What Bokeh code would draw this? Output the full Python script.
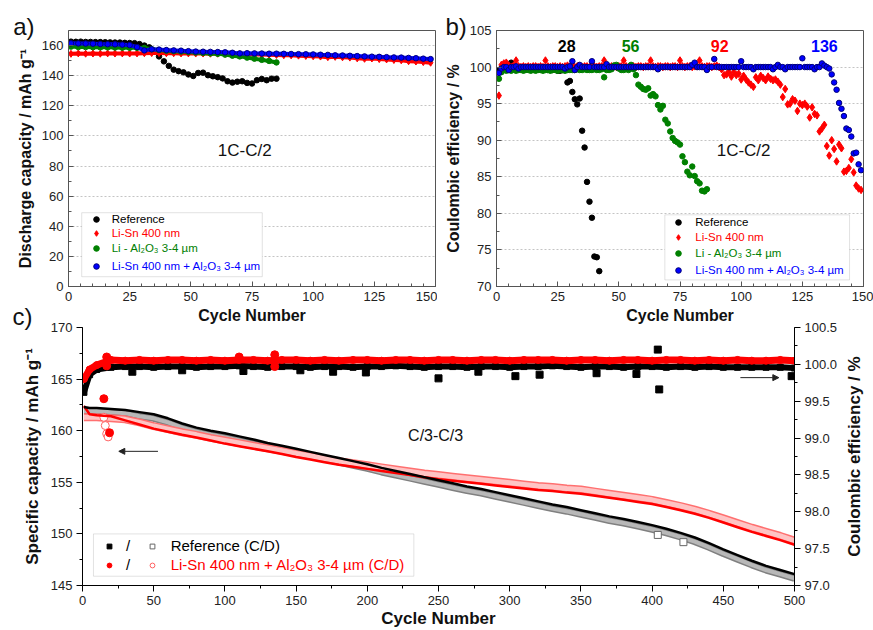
import math
from bokeh.plotting import figure
from bokeh.models import (Range1d, LinearAxis, Label, Legend, LegendItem, BoxAnnotation,
                          Arrow, NormalHead, FixedTicker, PrintfTickFormatter)
from bokeh.layouts import column, row
from bokeh.embed import file_html
from bokeh.resources import INLINE

FONT = "Liberation Sans"

# ---------------- data: panel a (discharge capacity, 1C-C/2) ----------------
a_ref_cyc = list(range(1, 86, 2))
a_ref_cap = [162.6, 162.5, 162.6, 162.4, 162.4, 162.3, 162.3, 162.2, 162.1, 162.0,
             162.0, 161.8, 161.7, 161.6, 161.0, 160.0, 158.8, 156.5, 152.8, 149.5,
             146.5, 144.0, 143.0, 142.2, 140.8, 139.8, 141.8, 142.0, 140.3, 139.6,
             139.0, 138.2, 136.3, 135.4, 136.0, 136.3, 135.2, 134.8, 137.0, 137.8,
             137.0, 138.0, 138.0]
a_cyc = list(range(1, 149, 3))
a_lisn_cap = [154.5, 154.8, 154.6, 154.7, 154.6, 154.8, 154.7, 154.8, 154.7, 154.8,
              154.9, 155.0, 155.0, 154.9, 154.9, 154.8, 154.8, 154.7, 154.7, 154.6,
              154.6, 154.5, 154.4, 154.3, 154.2, 154.1, 154.0, 153.9, 153.8, 153.6,
              153.5, 153.3, 153.1, 152.9, 152.7, 152.3, 152.5, 152.2, 152.0, 151.5,
              151.2, 151.4, 151.0, 150.8, 150.4, 150.2, 149.6, 149.4, 149.0, 148.6]
a_both_cap = [161.5, 161.4, 161.3, 161.2, 161.0, 160.9, 160.8, 160.6, 160.3, 159.0,
              156.8, 157.5, 157.3, 157.0, 156.8, 156.6, 156.3, 156.0, 155.9, 155.8,
              155.7, 155.5, 155.2, 154.8, 154.9, 154.8, 154.7, 154.6, 154.6, 154.5,
              154.4, 154.3, 154.2, 154.1, 153.9, 153.8, 153.5, 153.4, 153.2, 153.0,
              152.8, 152.6, 152.5, 152.3, 152.1, 152.0, 151.8, 151.6, 151.3, 151.0]
a_al_cyc = list(range(1, 86, 3))
a_al_cap = [159.3, 159.0, 159.0, 158.9, 158.8, 158.8, 158.7, 158.6, 158.5, 158.5,
            158.4, 157.6, 157.0, 156.6, 156.3, 156.0, 155.7, 155.4, 155.1, 154.8,
            154.5, 154.0, 153.3, 152.8, 152.0, 151.3, 150.5, 149.8, 148.8]

# ---------------- data: panel b (coulombic efficiency, 1C-C/2) ----------------
b_ref_cyc = list(range(1, 43))
b_ref_ce = [99.5, 99.8, 99.9, 100.0, 100.2, 100.6, 100.0, 99.9, 99.8, 99.8,
            99.7, 99.8, 99.8, 99.7, 99.7, 99.8, 99.7, 99.7, 99.6, 99.7,
            99.6, 99.6, 99.6, 99.7, 99.5, 99.5, 99.6, 99.8,
            97.9, 98.1, 96.6, 95.6, 94.9, 95.7, 91.3, 89.0, 84.3, 81.6, 79.4, 74.1, 74.0, 72.1]
b_al_cyc = list(range(1, 87))
b_al_ce = [98.4, 99.3, 99.6, 99.5, 99.6, 99.5, 99.7, 99.5, 99.6, 99.6,
           99.5, 99.6, 99.6, 99.5, 99.6, 99.5, 99.6, 99.6, 99.5, 99.6,
           99.6, 99.5, 99.6, 99.6, 99.5, 99.6, 99.6, 99.5, 99.6, 99.6,
           99.6, 99.6, 99.7, 99.6, 99.6, 99.7, 99.6, 99.6, 99.6, 99.7,
           99.6, 99.6, 99.7, 98.6, 99.6, 99.6, 99.7, 100.2, 100.3, 99.8,
           99.6, 99.6, 99.7, 99.6, 100.3, 99.7,
           98.9, 97.6, 97.3, 97.0, 96.9, 97.1, 96.1, 96.3, 96.0, 94.8,
           94.2, 94.7, 92.8, 92.3, 91.2, 90.3, 89.9, 89.7, 89.4, 87.8,
           87.0, 85.7, 85.2, 86.4, 85.1, 84.4, 84.1, 83.1, 83.0, 83.3]
b_cyc = list(range(1, 150))
b_lisn_ce = [96.1, 100.3, 100.5, 100.6, 100.2, 100.0, 100.2, 100.9, 100.1, 100.0,
             100.1, 100.0, 100.1, 100.0, 100.1, 100.1, 100.0, 100.1, 100.0, 100.9,
             100.1, 100.0, 100.1, 100.1, 100.0, 100.1, 100.0, 100.1, 100.2, 100.0,
             100.1, 100.0, 100.1, 100.1, 100.0, 100.1, 100.1, 100.0, 100.1, 100.1,
             100.0, 100.1, 100.1, 100.9, 100.1, 100.0, 100.1, 100.1, 100.0, 100.1,
             100.1, 100.9, 100.1, 100.0, 100.1, 100.1, 100.0, 100.1, 100.1, 100.0,
             100.1, 100.1, 100.9, 100.1, 100.0, 100.1, 100.1, 100.0, 100.1, 100.1,
             100.0, 100.1, 100.1, 100.0, 100.9, 100.1, 100.0, 100.1, 100.1, 100.0,
             100.1, 100.1, 100.9, 100.1, 100.0, 100.1, 100.1, 100.0, 100.1, 100.2,
             100.0, 99.7,
             98.9, 99.0, 99.3, 98.7, 99.3, 98.9, 99.1, 98.3, 98.8, 98.3,
             97.9, 97.6, 97.3, 98.6, 98.2, 98.8, 98.5, 98.2, 98.7, 98.4,
             98.2, 98.3, 98.0, 97.6, 95.9, 97.0, 94.9, 95.0, 95.6, 95.4,
             94.0, 95.0, 94.8, 95.0, 94.6, 93.1, 94.5, 93.6, 93.4, 91.2,
             91.6, 92.1, 89.2, 87.9, 90.0, 88.8, 87.1, 89.4, 88.9, 85.7,
             85.8, 86.2, 87.4, 85.6, 83.8, 83.4, 83.2]
b_both_ce = [99.2, 99.8, 100.0, 100.0, 99.6, 100.0, 100.0, 100.1, 99.8, 100.0,
             100.0, 100.0, 100.0, 100.0, 100.0, 100.0, 100.0, 100.0, 100.0, 100.0,
             100.0, 100.0, 100.0, 100.0, 100.0, 100.0, 100.0, 99.8, 100.0, 100.1,
             100.8, 99.6, 100.0, 100.3, 100.0, 100.0, 100.0, 100.0, 100.8, 100.0,
             100.0, 100.0, 100.0, 100.0, 100.4, 100.0, 100.0, 100.0, 100.0, 100.0,
             100.0, 100.0, 100.0, 100.0, 100.0, 100.0, 100.0, 100.0, 100.0, 100.0,
             100.0, 100.0, 100.0, 100.0, 100.0, 99.7, 100.0, 100.0, 100.0, 100.0,
             100.0, 100.0, 100.0, 100.0, 100.0, 100.0, 100.0, 100.0, 100.0, 100.3,
             100.6, 100.0, 100.0, 100.0, 100.0, 99.6, 100.0, 100.0, 101.1, 100.0,
             100.0, 100.0, 100.0, 100.0, 100.0, 100.0, 100.0, 100.0, 100.0, 100.8,
             100.0, 100.0, 100.0, 100.0, 99.7, 100.0, 100.0, 100.0, 100.0, 100.0,
             100.0, 100.0, 99.7, 100.0, 100.3, 100.0, 100.0, 99.7, 100.0, 100.0,
             100.0, 100.0, 100.0, 100.0, 101.2, 100.0, 100.0, 100.0, 100.0, 99.7,
             100.0, 100.0, 100.5, 100.2, 100.0, 99.8, 99.0, 97.9, 96.9, 95.1,
             94.3, 93.3, 91.6, 91.4, 90.5, 88.2, 88.3, 86.7, 85.9]
b_onset_cyc = [28.7, 54.8, 91.2, 134.0]
b_onset_txt = ["28", "56", "92", "136"]

# ---------------- data: panel c (C/3-C/3, 500 cycles) ----------------
c_cyc = [1, 5, 10] + list(range(20, 501, 10))
c_ref_chg = [162.3, 162.2, 162.2, 162.1, 162.0, 161.8, 161.6, 161.2, 160.7, 160.3,
             160.0, 159.75, 159.45, 159.15, 158.8, 158.55, 158.25, 157.95, 157.65, 157.35,
             157.05, 156.75, 156.4, 156.1, 155.8, 155.5, 155.2, 154.9, 154.6, 154.35,
             154.05, 153.75, 153.45, 153.15, 152.85, 152.6, 152.3, 152.0, 151.7, 151.45,
             151.15, 150.85, 150.5, 150.1, 149.65, 149.1, 148.5, 147.95, 147.4, 146.9,
             146.5, 146.1]
c_ref_dis = [161.9, 161.9, 161.9, 161.8, 161.7, 161.4, 161.2, 160.8, 160.3, 159.9,
             159.6, 159.35, 159.05, 158.75, 158.4, 158.15, 157.85, 157.55, 157.25, 156.95,
             156.65, 156.35, 156.0, 155.7, 155.4, 155.1, 154.8, 154.5, 154.2, 153.95,
             153.65, 153.35, 153.05, 152.75, 152.45, 152.2, 151.9, 151.6, 151.3, 151.05,
             150.75, 150.45, 150.1, 149.7, 149.25, 148.7, 148.1, 147.55, 147.0, 146.5,
             146.1, 145.7]
c_lisn_chg = [162.4, 161.6, 161.5, 161.4, 161.0, 160.6, 160.2, 159.9, 159.6, 159.35,
              159.05, 158.75, 158.5, 158.25, 158.0, 157.75, 157.45, 157.2, 156.95, 156.7,
              156.5, 156.3, 156.1, 155.9, 155.7, 155.5, 155.3, 155.15, 155.0, 154.85,
              154.7, 154.55, 154.4, 154.25, 154.15, 154.0, 153.9, 153.7, 153.5, 153.3,
              153.1, 152.9, 152.6, 152.3, 151.95, 151.55, 151.1, 150.65, 150.2, 149.8,
              149.4, 148.95]
c_lisn_dis = [161.3, 161.3, 161.3, 161.2, 161.1, 160.8, 160.45, 160.15, 159.85, 159.6,
              159.3, 159.05, 158.8, 158.55, 158.3, 158.05, 157.8, 157.55, 157.3, 157.05,
              156.85, 156.65, 156.45, 156.25, 156.05, 155.85, 155.7, 155.55, 155.4, 155.25,
              155.1, 154.95, 154.8, 154.65, 154.55, 154.4, 154.3, 154.1, 153.9, 153.7,
              153.5, 153.3, 153.0, 152.7, 152.35, 151.95, 151.5, 151.05, 150.6, 150.2,
              149.8, 149.35]
c_ref_ce = [99.62, 99.86, 99.93, 99.96, 99.97, 99.97, 99.96, 99.97, 99.97, 99.96,
            99.97, 99.97, 99.98, 99.97, 99.96, 99.97, 99.97, 99.96, 99.97, 99.97,
            99.96, 99.97, 99.97, 99.98, 99.97, 99.96, 99.97, 99.97, 99.96, 99.97,
            99.97, 99.96, 99.97, 99.97, 99.98, 99.97, 99.96, 99.97, 99.97, 99.96,
            99.97, 99.97, 99.96, 99.97, 99.96, 99.97, 99.96, 99.96, 99.96, 99.96,
            99.96, 99.95]
c_lisn_ce = [99.80, 99.93, 99.99, 100.06, 100.05, 100.06, 100.05, 100.06, 100.06, 100.05,
             100.06, 100.05, 100.06, 100.06, 100.05, 100.06, 100.06, 100.05, 100.06, 100.05,
             100.06, 100.06, 100.05, 100.06, 100.06, 100.05, 100.06, 100.06, 100.05, 100.06,
             100.06, 100.05, 100.06, 100.06, 100.06, 100.05, 100.06, 100.06, 100.05, 100.06,
             100.06, 100.05, 100.06, 100.06, 100.05, 100.06, 100.05, 100.06, 100.05, 100.05,
             100.06, 100.05]
c_ref_ce_out_cyc = [35, 70, 113, 153, 176, 199, 250, 278, 304, 321, 361, 389, 404, 405, 498]
c_ref_ce_out = [99.90, 99.92, 99.91, 99.92, 99.90, 99.89, 99.81, 99.90, 99.84, 99.86,
                99.88, 99.87, 100.20, 99.66, 99.84]
c_lisn_ce_out_cyc = [17, 17, 110, 135, 135]
c_lisn_ce_out = [100.10, 99.98, 100.10, 100.13, 99.97]
c_ref_dis_out_cyc = [404, 422]
c_ref_dis_out = [149.9, 149.2]
c_lisn_chg_out_cyc = [15, 19]
c_lisn_chg_out = [163.1, 159.8]
c_lisn_dis_out_cyc = [15, 16, 17, 18]
c_lisn_dis_out = [161.3, 160.5, 159.7, 159.4]

a_x_ticks = [0, 25, 50, 75, 100, 125, 150]
a_y_ticks = [0, 20, 40, 60, 80, 100, 120, 140, 160]
b_y_ticks = [70, 75, 80, 85, 90, 95, 100, 105]
c_x_ticks = [0, 50, 100, 150, 200, 250, 300, 350, 400, 450, 500]
c_y_ticks = [145, 150, 155, 160, 165, 170]
c_ce_ticks = [97.0, 97.5, 98.0, 98.5, 99.0, 99.5, 100.0, 100.5]

panel_tags = ["a)", "b)"]

names = ["Reference", "Li-Sn 400 nm", "Li - Al\u2082O\u2083 3-4 \u00b5m",
         "Li-Sn 400 nm + Al\u2082O\u2083 3-4 \u00b5m"]
cols = ["#000000", "#ff0000", "#008000", "#0000ff"]

AX = "#555555"


def ticker(major, step_minor):
    lo, hi = major[0], major[-1]
    n = int(round((hi - lo) / step_minor))
    return FixedTicker(ticks=major, minor_ticks=[lo + i * step_minor for i in range(n + 1)])


def style(ax, inward, fs="13px", lfs="16px"):
    ax.major_label_text_font = FONT
    ax.major_label_text_font_size = fs
    ax.major_label_text_color = "#222222"
    ax.axis_label_text_font = FONT
    ax.axis_label_text_font_style = "bold"
    ax.axis_label_text_font_size = lfs
    ax.axis_label_text_color = "#111111"
    if inward:
        ax.axis_line_color = AX
        ax.major_tick_line_color = AX
        ax.minor_tick_line_color = AX
        ax.major_tick_in, ax.major_tick_out = 5, 0
        ax.minor_tick_in, ax.minor_tick_out = 3, 0
    else:
        ax.axis_line_color = "#000000"
        ax.major_tick_in, ax.major_tick_out = 0, 6
        ax.minor_tick_in, ax.minor_tick_out = 0, 3


def item_legend(p, rend, label, color, x, y, fs, glyph=14, standoff=8):
    lg = Legend(items=[LegendItem(label=label, renderers=[rend])], location=(x, y),
                glyph_width=glyph, glyph_height=glyph, label_height=glyph,
                label_standoff=standoff, padding=0, margin=0, spacing=0,
                border_line_alpha=0, background_fill_alpha=0,
                label_text_color=color, label_text_font=FONT, label_text_font_size=fs)
    p.add_layout(lg)


def bare(p):
    p.xgrid.visible = False
    p.ygrid.visible = False
    p.outline_line_color = None
    p.background_fill_color = None
    p.border_fill_color = None


# ------- transparent strip behind the top row carrying the panel tags a) and b) -------
po = figure(width=873, height=120, x_range=Range1d(0, 873), y_range=Range1d(0, 120),
            output_backend="svg", toolbar_location=None,
            min_border_left=0, min_border_right=0, min_border_top=0, min_border_bottom=0)
po.margin = (-40, 0, 0, 0)
po.title.visible = False
po.xaxis.visible = False
po.yaxis.visible = False
bare(po)
for tag, tx in zip(panel_tags, [12.7, 445.0]):
    po.add_layout(Label(x=tx, y=54.5, x_units="screen", y_units="screen", text=tag,
                        text_font=FONT, text_font_size="24px", text_color="#111111",
                        text_baseline="alphabetic", text_align="left"))

# ---------------- panel a ----------------
pa = figure(width=437, height=326, x_range=Range1d(0, 150), y_range=Range1d(0, 170),
            output_backend="svg", toolbar_location=None,
            min_border_left=68, min_border_right=2, min_border_top=30, min_border_bottom=36)
pa.outline_line_color = AX
pa.xaxis.ticker = ticker(a_x_ticks, 5)
pa.yaxis.ticker = ticker(a_y_ticks, 10)
pa.xaxis.axis_label = "Cycle Number"
pa.yaxis.axis_label = "Discharge capacity / mAh g\u207b\u00b9"
style(pa.xaxis[0], True)
style(pa.yaxis[0], True)
pa.xaxis.major_label_standoff = 5
pa.xaxis.axis_label_standoff = 3
pa.yaxis.major_label_standoff = 5
pa.yaxis.axis_label_standoff = 5
pa.xgrid.visible = False
pa.ygrid.grid_line_color = "#c4c4c4"
pa.ygrid.grid_line_dash = "2 2"

ra0 = pa.scatter(a_ref_cyc, a_ref_cap, marker="circle", size=5.5, color=cols[0])
pa.line(a_cyc, a_lisn_cap, line_color=cols[1], line_width=4)
ra1 = pa.scatter(a_cyc, a_lisn_cap, marker="diamond", size=7, color=cols[1])
pa.line(a_al_cyc, a_al_cap, line_color=cols[2], line_width=4)
ra2 = pa.scatter(a_al_cyc, a_al_cap, marker="circle", size=5.5, color=cols[2])
pa.line(a_cyc, a_both_cap, line_color=cols[3], line_width=4)
ra3 = pa.scatter(a_cyc, a_both_cap, marker="circle", size=5.5, fill_color=cols[3],
                 line_color="#00007a")

pa.add_layout(Label(x=72, y=90, text="1C-C/2", text_font=FONT, text_font_size="17px",
                    text_align="center", text_baseline="middle", text_color="#111111"))
pa.add_layout(BoxAnnotation(left=5.4, right=79.2, bottom=6.5, top=49.0, fill_color="white",
                            fill_alpha=1, line_color="#a0a0a0", line_width=1))
for r, nm, c, vy in zip([ra0, ra1, ra2, ra3], names, cols, [60, 46, 30.7, 13]):
    item_legend(pa, r, nm, c, 20.7, vy, "11.5px", glyph=14, standoff=9)

# ---------------- panel b ----------------
pb = figure(width=436, height=326, x_range=Range1d(0, 150), y_range=Range1d(70, 105),
            output_backend="svg", toolbar_location=None,
            min_border_left=59, min_border_right=10, min_border_top=30, min_border_bottom=36)
pb.outline_line_color = AX
pb.xaxis.ticker = ticker(a_x_ticks, 5)
pb.yaxis.ticker = ticker(b_y_ticks, 2.5)
pb.xaxis.axis_label = "Cycle Number"
pb.yaxis.axis_label = "Coulombic efficiency / %"
style(pb.xaxis[0], True)
style(pb.yaxis[0], True)
pb.xaxis.major_label_standoff = 5
pb.xaxis.axis_label_standoff = 3
pb.yaxis.major_label_standoff = 5
pb.yaxis.axis_label_standoff = 5
pb.xgrid.visible = False
pb.ygrid.grid_line_color = "#c4c4c4"
pb.ygrid.grid_line_dash = "2 2"

rb0 = pb.scatter(b_ref_cyc, b_ref_ce, marker="circle", size=5.5, color=cols[0])
rb1 = pb.scatter(b_cyc, b_lisn_ce, marker="diamond", size=7.5, color=cols[1])
rb2 = pb.scatter(b_al_cyc, b_al_ce, marker="circle", size=5.5, color=cols[2])
rb3 = pb.scatter(b_cyc, b_both_ce, marker="circle", size=5.5, fill_color=cols[3],
                 line_color="#00007a")
for xx, t, c in zip(b_onset_cyc, b_onset_txt, [cols[0], cols[2], cols[1], cols[3]]):
    pb.add_layout(Label(x=xx, y=102.9, text=t, text_font=FONT, text_font_size="16px",
                        text_font_style="bold", text_color=c, text_align="center",
                        text_baseline="middle"))
pb.add_layout(Label(x=101, y=88.6, text="1C-C/2", text_font=FONT, text_font_size="17px",
                    text_align="center", text_baseline="middle", text_color="#111111"))
pb.add_layout(BoxAnnotation(left=68.8, right=144.3, bottom=70.9, top=79.8, fill_color="white",
                            fill_alpha=1, line_color="#a0a0a0", line_width=1))
for r, nm, c, vy in zip([rb0, rb1, rb2, rb3], names, cols, [57.3, 42.3, 26.3, 9]):
    item_legend(pb, r, nm, c, 175.3, vy, "11.5px", glyph=14, standoff=10)

for p in (pa, pb):
    p.background_fill_color = "white"
    p.border_fill_color = None
    p.margin = (-80, 0, 0, 0)

# ---------------- panel c ----------------
pc = figure(width=873, height=330, x_range=Range1d(0, 500), y_range=Range1d(145, 170),
            output_backend="svg", toolbar_location=None,
            min_border_left=82, min_border_right=79, min_border_top=27, min_border_bottom=42)
pc.margin = (-26, 0, 0, 0)
pc.outline_line_color = None
pc.extra_y_ranges = {"ce": Range1d(97.0, 100.5)}
pc.xgrid.visible = False
pc.ygrid.visible = False
pc.xaxis.ticker = ticker(c_x_ticks, 25)
pc.yaxis.ticker = ticker(c_y_ticks, 2.5)
pc.xaxis.axis_label = "Cycle Number"
pc.yaxis.axis_label = "Specific capacity / mAh g\u207b\u00b9"
style(pc.xaxis[0], False, lfs="17px")
style(pc.yaxis[0], False, lfs="17px")
pc.xaxis.major_label_standoff = 4
pc.xaxis.axis_label_standoff = 1
pc.yaxis.major_label_standoff = 4
pc.yaxis.axis_label_standoff = 6
rax = LinearAxis(y_range_name="ce", ticker=ticker(c_ce_ticks, 0.25),
                 formatter=PrintfTickFormatter(format="%.1f"))
style(rax, False, lfs="17px")
rax.major_label_standoff = 4
pc.add_layout(rax, "right")
pc.title.text = "c)"
pc.title.align = "left"
pc.title.offset = -70
pc.title.text_font = FONT
pc.title.text_font_size = "24px"
pc.title.text_font_style = "normal"
pc.title.text_color = "#111111"
pc.title.vertical_align = "bottom"
pc.title.standoff = -4

# discharge bands (open markers, dense)
pc.line(c_cyc, c_ref_dis, line_color="#808080", line_width=7)
pc.line(c_cyc, c_ref_dis, line_color="#b8b8b8", line_width=4)
rc_ref_dis = pc.scatter(c_ref_dis_out_cyc, c_ref_dis_out, marker="square", size=7,
                        fill_color="white", line_color="#666666")
pc.line(c_cyc, c_lisn_dis, line_color="#ff7070", line_width=8)
pc.line(c_cyc, c_lisn_dis, line_color="#ffc4c4", line_width=5)
rc_lisn_dis = pc.scatter(c_lisn_dis_out_cyc, c_lisn_dis_out, marker="circle", size=8,
                         fill_color="white", line_color="#ff6060")
# charge curves (filled markers)
pc.line(c_cyc, c_lisn_chg, line_color="#ff0000", line_width=2.5)
pc.scatter(c_lisn_chg_out_cyc, c_lisn_chg_out, marker="circle", size=8, color="#ff0000")
pc.line(c_cyc, c_ref_chg, line_color="#000000", line_width=2.5)
# coulombic efficiency bands (right axis)
pc.line(c_cyc, c_ref_ce, y_range_name="ce", line_color="#000000", line_width=6)
rc_ref_ce = pc.scatter(c_cyc, c_ref_ce, y_range_name="ce", marker="square", size=6,
                       color="#000000")
pc.scatter(c_ref_ce_out_cyc, c_ref_ce_out, y_range_name="ce", marker="square", size=7,
           color="#000000")
pc.line(c_cyc, c_lisn_ce, y_range_name="ce", line_color="#ff0000", line_width=7)
rc_lisn_ce = pc.scatter(c_cyc, c_lisn_ce, y_range_name="ce", marker="circle", size=7,
                        color="#ff0000")
pc.scatter(c_lisn_ce_out_cyc, c_lisn_ce_out, y_range_name="ce", marker="circle", size=8,
           color="#ff0000")

pc.add_layout(Label(x=248, y=159.5, text="C/3-C/3", text_font=FONT, text_font_size="16px",
                    text_align="center", text_baseline="middle", text_color="#111111"))
pc.add_layout(Arrow(x_start=53, y_start=158.0, x_end=25.5, y_end=158.0, line_width=1,
                    line_color="#222222",
                    end=NormalHead(size=6, fill_color="#222222", line_color="#222222")))
pc.add_layout(Arrow(x_start=462, y_start=99.82, x_end=489, y_end=99.82, y_range_name="ce",
                    line_width=1, line_color="#222222",
                    end=NormalHead(size=6, fill_color="#222222", line_color="#222222")))
pc.add_layout(BoxAnnotation(left=7.7, right=232.7, bottom=145.9, top=150.0, fill_color="white",
                            fill_alpha=1, line_color="#a0a0a0", line_width=1))
item_legend(pc, rc_ref_ce, "/", "#000000", 21, 30.7, "15px", glyph=12, standoff=11)
item_legend(pc, rc_ref_dis, "Reference (C/D)", "#000000", 63.7, 30.7, "15px", glyph=12, standoff=13)
item_legend(pc, rc_lisn_ce, "/", "#000000", 21, 12, "15px", glyph=12, standoff=11)
item_legend(pc, rc_lisn_dis, "Li-Sn 400 nm + Al\u2082O\u2083 3-4 \u00b5m (C/D)", "#ff0000",
            63.7, 12, "15px", glyph=12, standoff=13)
pc.background_fill_color = "white"
pc.border_fill_color = None

# transparent overlay strip carrying the right-hand axis title (reads bottom-to-top)
pr = figure(width=40, height=330, x_range=Range1d(0, 1), y_range=Range1d(97.0, 100.5),
            output_backend="svg", toolbar_location=None,
            min_border_left=30, min_border_right=0, min_border_top=27, min_border_bottom=42)
pr.margin = (-26, 0, 0, -40)
pr.xaxis.visible = False
bare(pr)
ya = pr.yaxis[0]
ya.ticker = FixedTicker(ticks=[], minor_ticks=[])
ya.axis_line_color = None
ya.major_tick_line_color = None
ya.minor_tick_line_color = None
ya.major_label_standoff = 0
ya.axis_label = "Coulombic efficiency / %"
ya.axis_label_standoff = 0
ya.axis_label_text_font = FONT
ya.axis_label_text_font_style = "bold"
ya.axis_label_text_font_size = "17px"
ya.axis_label_text_color = "#111111"

layout = column(po, row(pa, pb), row(pc, pr))
open("out.html", "w").write(file_html(layout, INLINE))
